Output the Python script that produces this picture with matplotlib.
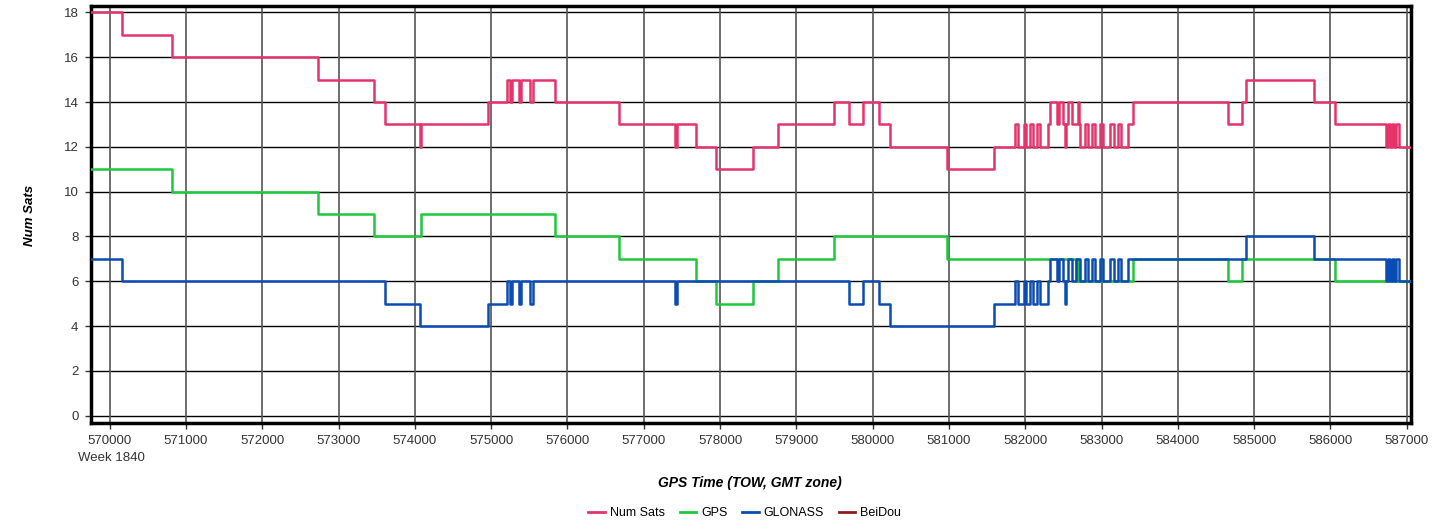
import matplotlib.pyplot as plt
from matplotlib.lines import Line2D

# step change points (GPS time of week, seconds) and the value from that time on
gps_t = [569760, 570822, 572731, 573460, 574076, 575842, 576671, 577680, 577947,
         578427, 578755, 579489, 580975, 582666, 582690, 582709, 583411, 584658,
         584846, 586065]
gps_v = [11, 10, 9, 8, 9, 8, 7, 6, 5, 6, 7, 8, 7, 6, 7, 6, 7, 6, 7, 6]

glo_t = [569760, 570166, 573613, 574063, 574959, 575208, 575242, 575274, 575360,
         575392, 575514, 575553, 577414, 577440, 579685, 579872, 580088, 580232,
         581595, 581870, 581900, 581978, 582010, 582066, 582106, 582158, 582197,
         582302, 582328, 582416, 582446, 582499, 582525, 582538, 582565, 582617,
         582666, 582722, 582788, 582827, 582879, 582919, 582984, 583024, 583115,
         583168, 583220, 583260, 583352, 584894, 585780, 586723, 586758, 586784,
         586811, 586837, 586863, 586894]
glo_v = [7, 6, 5, 4, 5, 6, 5, 6, 5,
         6, 5, 6, 5, 6, 5, 6, 5, 4,
         5, 6, 5, 6, 5, 6, 5, 6, 5,
         6, 7, 6, 7, 6, 5, 6, 7, 6,
         7, 6, 7, 6, 7, 6, 7, 6, 7,
         6, 7, 6, 7, 8, 7, 6, 7, 6,
         7, 6, 7, 6]

num_t = [569760, 570166, 570822, 572731, 573460, 573613, 574063, 574076, 574959,
         575208, 575242, 575274, 575360, 575392, 575514, 575553, 575842, 576671,
         577414, 577440, 577680, 577947, 578427, 578755, 579489, 579685, 579872,
         580088, 580232, 580975, 581595, 581870, 581900, 581978, 582010, 582066,
         582106, 582158, 582197, 582302, 582328, 582416, 582446, 582499, 582525,
         582538, 582565, 582617, 582666, 582690, 582709, 582722, 582788, 582827,
         582879, 582919, 582984, 583024, 583115, 583168, 583220, 583260, 583352,
         583411, 584658, 584846, 584894, 585780, 586065, 586723, 586758, 586784,
         586811, 586837, 586863, 586894]
num_v = [18, 17, 16, 15, 14, 13, 12, 13, 14,
         15, 14, 15, 14, 15, 14, 15, 14, 13,
         12, 13, 12, 11, 12, 13, 14, 13, 14,
         13, 12, 11, 12, 13, 12, 13, 12, 13,
         12, 13, 12, 13, 14, 13, 14, 13, 12,
         13, 14, 13, 13, 14, 13, 12, 13, 12,
         13, 12, 13, 12, 13, 12, 13, 12, 13,
         14, 13, 14, 15, 14, 13, 12, 13, 12,
         13, 12, 13, 12]

t_end = 587050
x_ticks = list(range(570000, 588000, 1000))
y_ticks = list(range(0, 19, 2))

c_num = '#e5336b'
c_gps = '#1ec83c'
c_glo = '#0a4cb4'
c_bei = '#8b1c1c'

plt.rcParams['font.family'] = ['Liberation Sans', 'DejaVu Sans']

fig = plt.figure(figsize=(14.49, 5.25), dpi=100)
ax = fig.add_axes([0.0628, 0.1949, 0.9110, 0.7942])


def step_line(t, v, color):
    ax.step(t + [t_end], v + [v[-1]], where='post', color=color, linewidth=1.8,
            zorder=3)


step_line(gps_t, gps_v, c_gps)
step_line(glo_t, glo_v, c_glo)
step_line(num_t, num_v, c_num)

ax.set_xlim(569756, 587056)
ax.set_ylim(-0.31, 18.3)
ax.set_xticks(x_ticks)
ax.set_xticklabels([str(x) for x in x_ticks], fontsize=9.5, color='#333333')
ax.set_yticks(y_ticks)
ax.set_yticklabels([str(y) for y in y_ticks], fontsize=9.5, color='#333333')
ax.tick_params(axis='both', length=4, width=1, color='#333333', pad=5)

for y in y_ticks:
    ax.axhline(y, color='black', linewidth=1.0, zorder=1)
for x in x_ticks:
    ax.axvline(x, color='#555555', linewidth=1.2, zorder=1)

for s in ax.spines.values():
    s.set_linewidth(2.5)
    s.set_color('black')

ax.text(569580, -1.6, 'Week 1840', fontsize=9.5, color='#333333', ha='left',
        va='top')

# axis titles placed in pixel terms of the original
fig.text(30 / 1449, 1 - 215 / 525, 'Num Sats', rotation=90, fontsize=9.5,
         fontstyle='italic', fontweight='bold', ha='center', va='center')
fig.text(750 / 1449, 1 - 483 / 525, 'GPS Time (TOW, GMT zone)', fontsize=10,
         fontstyle='italic', fontweight='bold', ha='center', va='center')

handles = [Line2D([], [], color=c, linewidth=2) for c in (c_num, c_gps, c_glo, c_bei)]
fig.legend(handles, ['Num Sats', 'GPS', 'GLONASS', 'BeiDou'], loc='center',
           bbox_to_anchor=(0.514, 1 - 513 / 525), ncol=4, frameon=False, fontsize=9,
           handlelength=1.3, handletextpad=0.4, columnspacing=1.2)

fig.savefig('out.png', dpi=100)
